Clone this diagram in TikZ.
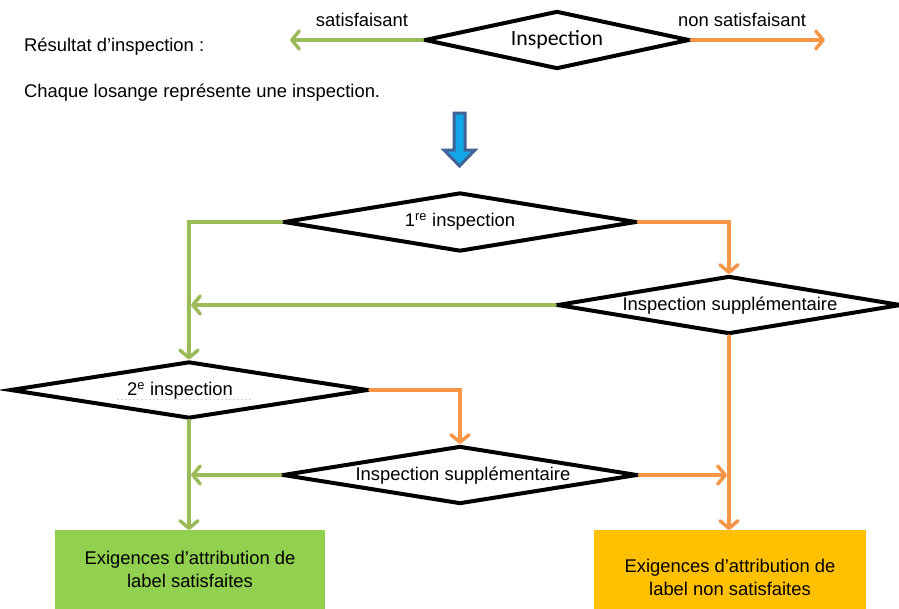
\documentclass[tikz,border=0pt]{standalone}
\usepackage{fontspec}
\setmainfont{Liberation Sans}
\newfontfamily\calib{Carlito}
\usetikzlibrary{shapes.geometric,arrows.meta}
\definecolor{lgreen}{HTML}{9BBB59}
\definecolor{lorange}{HTML}{F79646}
\definecolor{bgreen}{HTML}{92D050}
\definecolor{borange}{HTML}{FFC000}
\definecolor{bdark}{HTML}{3F6396}
\definecolor{bcyan}{HTML}{12A8E8}
\tikzset{
  dia/.style={shape=diamond, draw=black, line width=4pt, fill=white, inner sep=0pt, line join=miter},
  lbl/.style={font=\fontsize{18.4}{23}\selectfont, inner sep=0pt},
  gline/.style={draw=lgreen, line width=3.5pt, line cap=round, line join=miter},
  oline/.style={draw=lorange, line width=3.5pt, line cap=round, line join=miter},
  garrow/.style={gline, -{Straight Barb[length=7.5pt,width=18pt,round]}},
  oarrow/.style={oline, -{Straight Barb[length=7.5pt,width=18pt,round]}},
  boxg/.style={fill=bgreen, minimum width=270pt, minimum height=82pt, anchor=north west, inner sep=0pt},
  boxo/.style={fill=borange, minimum width=272pt, minimum height=82pt, anchor=north west, inner sep=0pt},
}
\begin{document}
\begin{tikzpicture}[x=1pt,y=-1pt]
\useasboundingbox (0,0) rectangle (899,608);
\clip (0,0) rectangle (899,608);
\fill[white] (0,0) rectangle (899,608);

% legend
\node[lbl, anchor=west] (res) at (24,47) {Résultat d’inspection :};
\node[lbl, anchor=west] (chq) at (24,93) {Chaque losange représente une inspection.};
\node[dia, minimum width=265pt, minimum height=58pt] (d0) at (557,40) {};
\node[font=\calib\fontsize{21.8}{25}\selectfont, inner sep=0pt] (d0t) at (557,40) {Inspection};
\coordinate (l0) at (290,40);
\coordinate (r0) at (825,40);
\draw[garrow] (d0.west) -- (l0);
\draw[oarrow] (d0.east) -- (r0);
\node[lbl] (sat) at (362,20) {satisfaisant};
\node[lbl] (nsat) at (742,20) {non satisfaisant};

% blue arrow
\draw[draw=bdark, fill=bcyan, line width=3pt, line join=miter]
  (454,113) -- (465,113) -- (465,150) -- (475,150) -- (459.5,166) -- (444,150) -- (454,150) -- cycle;

% boxes
\node[boxg] (gbox) at (55,530) {};
\node[boxo] (obox) at (594,530) {};
\node[lbl, align=center] (gtext) at (190,569) {Exigences d’attribution de\\label satisfaites};
\node[lbl, align=center] (otext) at (730,577) {Exigences d’attribution de\\label non satisfaites};

% diamonds
\node[dia, minimum width=353pt, minimum height=59pt] (d1) at (460,222) {};
\node[dia, minimum width=344pt, minimum height=58pt] (d2) at (729,305) {};
\node[dia, minimum width=358pt, minimum height=57pt] (d3) at (189,390) {};
\node[dia, minimum width=355pt, minimum height=58pt] (d4) at (460,475) {};

\node[lbl] (d1t) at (460,222) {1\textsuperscript{re} inspection};
\node[lbl] (d2t) at (730,306) {Inspection supplémentaire};
\node[lbl] (d3t) at (180,391) {2\textsuperscript{e} inspection};
\node[lbl] (d4t) at (463,476) {Inspection supplémentaire};
\draw[gray!35, dash pattern=on 2pt off 2pt, line width=0.7pt] (117,399) -- (253,399);

% connectors
\draw[garrow] (d1.west) -| (d3.north);
\draw[oarrow] (d1.east) -| (d2.north);
\draw[garrow] (d2.west) -- ([xshift=2pt]d2.west -| d3.north);
\draw[oarrow] (d2.south) -- (d2.south |- obox.north);
\draw[oarrow] (d3.east) -| (d4.north);
\draw[garrow] (d3.south) -- (d3.south |- gbox.north);
\draw[garrow] (d4.west) -- ([xshift=2pt]d4.west -| d3.south);
\draw[oarrow] (d4.east) -- ([xshift=-2pt]d4.east -| d2.south);
\end{tikzpicture}
\end{document}
